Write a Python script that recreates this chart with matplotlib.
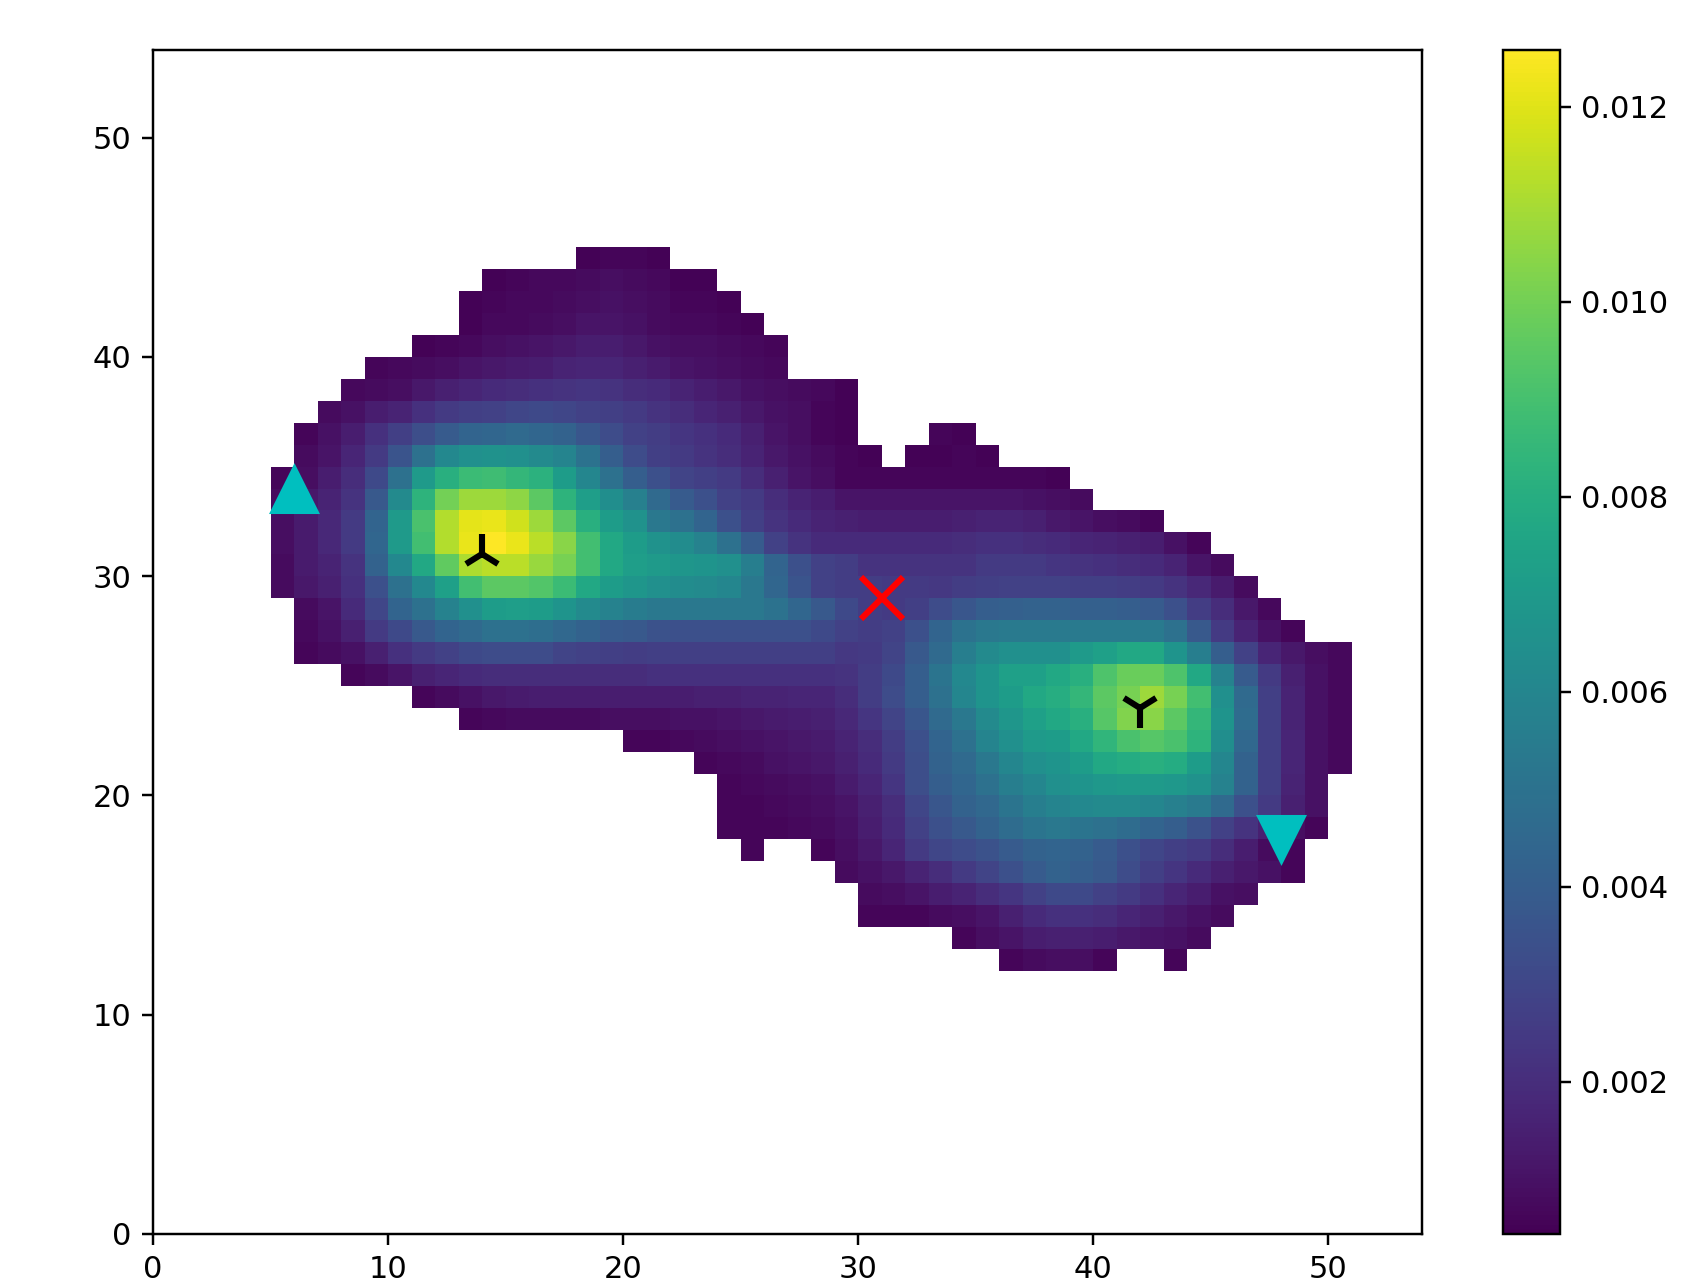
import numpy as np
import matplotlib
matplotlib.use('Agg')
from matplotlib import pyplot as plt

# grid size and colour range of the density map
nx, ny = 54, 54
vmin, vmax = 0.00044, 0.01258

# cell values in units of 1e-4, one entry per grid row: (row, first column, values)
cells = [
    (44, 18, [5, 6, 6, 5]),
    (43, 14, [5, 6, 7, 7, 8, 9, 8, 7, 5, 5]),
    (42, 13, [5, 6, 7, 7, 8, 9, 10, 9, 8, 6, 6, 5]),
    (41, 13, [5, 7, 7, 8, 9, 11, 11, 10, 8, 7, 7, 6, 5]),
    (40, 11, [5, 6, 7, 9, 10, 11, 12, 14, 14, 12, 10, 9, 9, 8, 7, 6]),
    (39, 9, [6, 7, 8, 9, 11, 12, 13, 14, 16, 17, 17, 15, 13, 11, 10, 9, 8, 7]),
    (38, 8, [7, 8, 9, 12, 15, 17, 19, 20, 21, 22, 23, 22, 20, 19, 16, 14, 12, 10, 9, 8, 7, 5]),
    (37, 7, [8, 10, 14, 16, 21, 25, 27, 28, 30, 31, 30, 28, 27, 25, 22, 20, 17, 15, 12, 10, 9, 6, 5]),
    (36, 6, [6, 10, 14, 21, 27, 33, 39, 43, 44, 46, 44, 42, 37, 32, 28, 26, 23, 21, 19, 15, 11, 9, 6, 5]),
    (36, 33, [6, 5]),
    (35, 6, [8, 11, 17, 25, 36, 49, 61, 65, 66, 65, 62, 59, 50, 40, 32, 27, 25, 22, 20, 16, 12, 10, 8, 6, 5]),
    (35, 32, [5, 5, 6, 5]),
    (34, 5, [6, 9, 14, 20, 31, 49, 70, 81, 87, 88, 85, 82, 71, 60, 49, 40, 34, 29, 27, 25, 20, 15,
             11, 9, 6, 6, 6, 6, 6, 6, 6, 6, 6, 5]),
    (33, 5, [8, 12, 16, 22, 38, 62, 83, 100, 108, 108, 105, 95, 83, 72, 64, 57, 46, 39, 34, 28, 25, 20,
             16, 14, 11, 11, 11, 11, 11, 11, 11, 11, 10, 9, 8]),
    (32, 5, [9, 13, 18, 25, 43, 70, 91, 112, 121, 122, 117, 108, 95, 81, 71, 66, 53, 49, 43, 34,
             27, 22, 19, 16, 15, 14, 14, 14, 14, 15, 16, 16, 15, 12, 11, 9, 8, 6]),
    (31, 5, [9, 13, 18, 25, 44, 70, 89, 112, 122, 126, 122, 113, 104, 89, 77, 71, 66, 63, 58, 49,
             39, 28, 22, 19, 19, 19, 19, 19, 19, 20, 21, 21, 20, 19, 17, 16, 15, 14, 10, 6]),
    (30, 5, [8, 13, 16, 22, 42, 61, 77, 96, 111, 113, 113, 107, 101, 89, 77, 72, 70, 68, 67, 65,
             56, 43, 34, 28, 26, 22, 22, 22, 22, 22, 25, 25, 25, 23, 22, 21, 20, 19, 16, 11, 8]),
    (29, 5, [8, 12, 15, 21, 34, 49, 61, 73, 89, 95, 95, 93, 87, 77, 71, 68, 65, 63, 62, 60,
             53, 44, 36, 28, 26, 26, 25, 25, 24, 26, 27, 28, 28, 28, 27, 27, 26, 25, 22, 18, 13, 8]),
    (28, 6, [8, 11, 19, 30, 43, 49, 58, 65, 71, 72, 71, 67, 62, 58, 55, 53, 53, 53, 53, 53,
             50, 44, 38, 31, 26, 25, 27, 32, 37, 40, 41, 42, 42, 41, 41, 40, 39, 34, 26, 20, 12, 7]),
    (27, 6, [7, 10, 15, 25, 31, 38, 43, 46, 49, 49, 48, 45, 42, 39, 38, 35, 34, 34, 34, 34,
             34, 34, 31, 28, 26, 28, 34, 43, 50, 53, 54, 54, 54, 54, 54, 54, 54, 49, 38, 25, 16, 10, 6]),
    (26, 6, [6, 8, 10, 15, 21, 25, 28, 31, 32, 32, 32, 29, 28, 27, 26, 27, 27, 27, 27, 27,
             27, 27, 27, 24, 25, 29, 38, 46, 56, 62, 65, 65, 65, 70, 73, 77, 77, 67, 56, 40,
             28, 17, 12, 9, 7]),
    (25, 8, [6, 8, 11, 15, 17, 19, 20, 20, 20, 20, 20, 20, 20, 21, 21, 21, 21, 21, 21, 21,
             21, 22, 26, 31, 40, 51, 61, 67, 73, 73, 77, 81, 92, 98, 98, 92, 77, 58, 39, 25, 15, 10, 7]),
    (24, 11, [6, 8, 10, 12, 13, 14, 14, 14, 14, 14, 14, 14, 15, 15, 16, 16, 17, 17, 20, 26,
              32, 40, 49, 60, 67, 71, 77, 80, 85, 95, 101, 108, 101, 89, 65, 46, 27, 16, 10, 7]),
    (23, 13, [6, 7, 8, 8, 8, 8, 9, 9, 9, 10, 10, 11, 12, 13, 14, 15, 18, 23, 29, 37,
              46, 53, 62, 68, 73, 77, 81, 94, 103, 104, 95, 85, 67, 47, 27, 16, 10, 7]),
    (22, 20, [6, 6, 7, 8, 9, 10, 11, 12, 13, 16, 20, 26, 34, 43, 49, 59, 65, 70, 71, 77,
              84, 91, 94, 91, 83, 64, 45, 27, 17, 10, 7]),
    (21, 23, [6, 7, 8, 10, 11, 12, 15, 19, 25, 33, 42, 46, 53, 60, 65, 67, 71, 77, 79, 81,
              79, 71, 60, 42, 27, 17, 10, 7]),
    (20, 24, [6, 7, 8, 9, 10, 13, 17, 23, 33, 40, 44, 49, 56, 60, 65, 67, 69, 70, 70, 69,
              66, 58, 42, 27, 16, 10]),
    (19, 24, [6, 6, 7, 8, 9, 11, 15, 20, 30, 37, 42, 45, 51, 56, 59, 61, 62, 62, 60, 57,
              54, 46, 34, 25, 15, 10]),
    (18, 24, [6, 6, 6, 7, 8, 10, 14, 19, 28, 34, 38, 42, 47, 51, 53, 51, 49, 47, 43, 40,
              35, 28, 22, 15, 9, 6]),
    (17, 25, [6]),
    (17, 28, [6, 9, 12, 17, 25, 30, 32, 35, 39, 42, 43, 42, 39, 34, 30, 27, 25, 20, 14, 8, 6]),
    (16, 29, [8, 10, 12, 16, 20, 25, 29, 34, 39, 42, 40, 38, 32, 27, 23, 19, 15, 12, 10, 6]),
    (15, 30, [8, 9, 11, 14, 16, 20, 23, 28, 31, 31, 28, 25, 21, 17, 14, 10, 9]),
    (14, 30, [6, 6, 6, 8, 9, 11, 15, 19, 21, 21, 20, 17, 15, 12, 10, 8]),
    (13, 34, [6, 9, 11, 14, 15, 15, 14, 12, 11, 10, 8]),
    (12, 36, [6, 8, 9, 9, 6]),
    (12, 43, [6]),
]

# marker positions
start_pts = [(6, 34), (48, 18)]     # cyan triangles: up, down
peak_pts = [(14, 31), (42, 24)]     # black tri markers
saddle_pt = (31, 29)                # red cross

grid = np.full((ny, nx), np.nan)
for r, c0, vals in cells:
    grid[r, c0:c0 + len(vals)] = np.array(vals) * 1e-4
data = np.ma.masked_invalid(grid)

fig = plt.figure(figsize=(1702 / 220.0, 1284 / 220.0), dpi=220)
ax = fig.add_axes([0.0899, 0.039, 0.7456, 0.922])
cax = fig.add_axes([0.8831, 0.039, 0.0335, 0.922])

mesh = ax.pcolormesh(np.arange(nx + 1), np.arange(ny + 1), data,
                     cmap='viridis', vmin=vmin, vmax=vmax)
ax.plot(start_pts[0][0], start_pts[0][1], 'c^', ms=15)
ax.plot(start_pts[1][0], start_pts[1][1], 'cv', ms=15)
ax.plot(peak_pts[0][0], peak_pts[0][1], 'k2', ms=13, mew=2)
ax.plot(peak_pts[1][0], peak_pts[1][1], 'k1', ms=13, mew=2)
ax.plot(saddle_pt[0], saddle_pt[1], 'rx', ms=14, mew=2)

ax.set_xlim(0, nx)
ax.set_ylim(0, ny)
ax.set_xticks(range(0, 51, 10))
ax.set_yticks(range(0, 51, 10))

cb = fig.colorbar(mesh, cax=cax)
cb.set_ticks([0.002, 0.004, 0.006, 0.008, 0.010, 0.012])

fig.savefig('out.png', dpi=220)
